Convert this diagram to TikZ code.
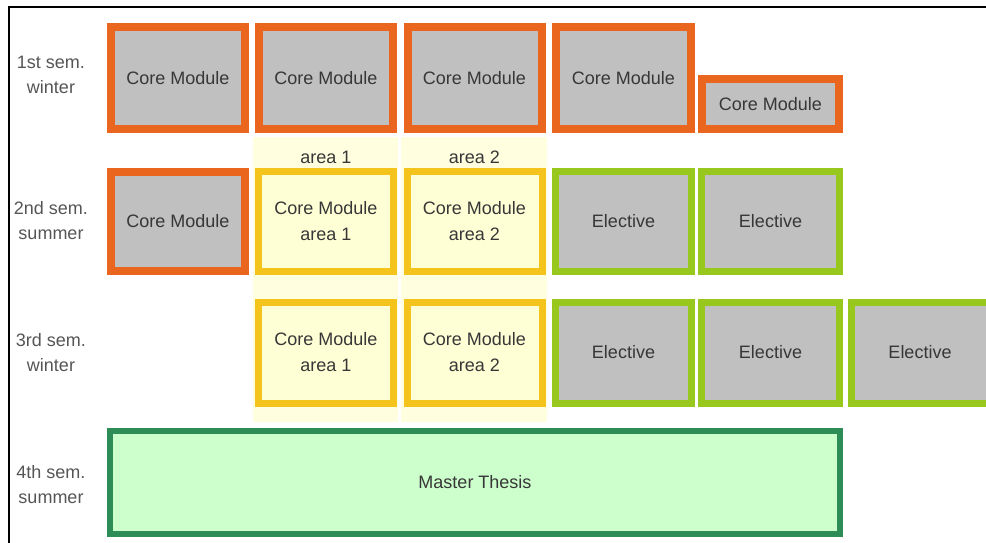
\documentclass[tikz,border=0pt]{standalone}
\usepackage{fontspec}
\setmainfont{Liberation Sans}
\definecolor{coreor}{RGB}{234,102,30}
\definecolor{modgray}{RGB}{192,192,192}
\definecolor{modtext}{RGB}{55,55,55}
\definecolor{labgray}{RGB}{85,85,85}
\definecolor{areayel}{RGB}{245,196,28}
\definecolor{areafill}{RGB}{255,255,214}
\definecolor{areabg}{RGB}{255,255,224}
\definecolor{elecgreen}{RGB}{152,200,30}
\definecolor{thesisgreen}{RGB}{46,140,86}
\definecolor{thesisfill}{RGB}{204,255,204}
\begin{document}
\begin{tikzpicture}[x=1pt,y=-1pt,
  module/.style={draw, line width=8pt, fill=modgray, text=modtext, align=center,
    inner sep=0pt, minimum width=134pt, minimum height=102pt,
    font=\fontsize{18}{26}\selectfont},
  core/.style={module, draw=coreor},
  area/.style={module, draw=areayel, fill=areafill, line width=7pt,
    minimum width=135pt, minimum height=101pt},
  elective/.style={module, draw=elecgreen, line width=7pt,
    minimum width=136pt, minimum height=101pt},
  thesis/.style={module, draw=thesisgreen, fill=thesisfill, line width=6pt,
    minimum width=730pt, minimum height=103pt},
  semlabel/.style={align=center, text=labgray, font=\fontsize{18}{25}\selectfont}]
\useasboundingbox (0,0) rectangle (986,543);
\draw[line width=2pt] (9,543) -- (9,7) -- (986,7);
% pale columns behind the two areas
\fill[areabg] (253,137) rectangle (398,422);
\fill[areabg] (401,137) rectangle (547,422);
\node[text=modtext, font=\fontsize{18}{26}\selectfont] (ar1) at (326,157) {area 1};
\node[text=modtext, font=\fontsize{18}{26}\selectfont] (ar2) at (474.5,157) {area 2};
% semesters
\node[semlabel] (s1) at (51,75) {1st sem.\\winter};
\node[semlabel] (s2) at (51,221) {2nd sem.\\summer};
\node[semlabel] (s3) at (51,353) {3rd sem.\\winter};
\node[semlabel] (s4) at (51,485) {4th sem.\\summer};
% 1st semester
\node[core] (c11) at (178,78) {Core Module};
\node[core] (c12) at (326,78) {Core Module};
\node[core] (c13) at (474.5,78) {Core Module};
\node[core, minimum width=135pt] (c14) at (623.5,78) {Core Module};
\node[core, minimum width=137pt, minimum height=50pt] (c15) at (770.5,104) {Core Module};
% 2nd semester
\node[core, minimum height=99pt] (c21) at (178,221.5) {Core Module};
\node[area, minimum height=100pt] (y21) at (326,221.5) {Core Module\\area 1};
\node[area, minimum height=100pt] (y22) at (474.5,221.5) {Core Module\\area 2};
\node[elective, minimum height=100pt] (e21) at (623.5,221.5) {Elective};
\node[elective, minimum width=138pt, minimum height=100pt] (e22) at (770.5,221.5) {Elective};
% 3rd semester
\node[area] (y31) at (326,352.5) {Core Module\\area 1};
\node[area] (y32) at (474.5,352.5) {Core Module\\area 2};
\node[elective] (e31) at (623.5,352.5) {Elective};
\node[elective, minimum width=138pt] (e32) at (770.5,352.5) {Elective};
\node[elective, minimum width=138pt] (e33) at (920,352.5) {Elective};
% 4th semester
\node[thesis] (mt) at (475,482.5) {Master Thesis};
\end{tikzpicture}
\end{document}
